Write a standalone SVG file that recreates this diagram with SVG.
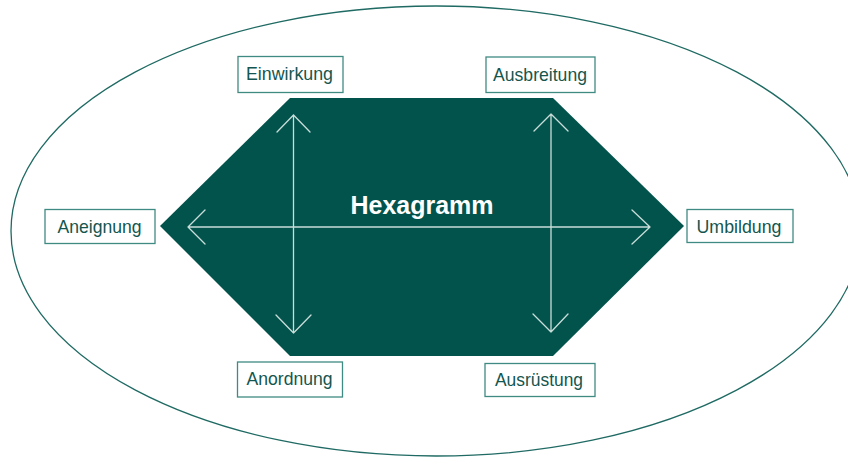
<svg xmlns="http://www.w3.org/2000/svg" width="848" height="457" viewBox="0 0 848 457">
<style>
.box{fill:#fff;stroke:#3f8a82;stroke-width:1.3}
.lbl{font-family:"Liberation Sans",Arial,sans-serif;font-size:19px;fill:#14564f;text-anchor:middle}
.arr{fill:none;stroke:#c9ddd9;stroke-width:1.3;stroke-linecap:round;stroke-linejoin:round}
</style>
<rect width="848" height="457" fill="#fff"/>
<g id="ellipse">
<ellipse cx="436" cy="231" rx="425" ry="225" fill="none" stroke="#1f6a63" stroke-width="1.3"/>
</g>
<g id="hexagon">
<polygon points="290,98 553,98 684,226 553,356 290,356 160,226" fill="#03534d"/>
<text x="422" y="214" font-family="'Liberation Sans',Arial,sans-serif" font-size="26" font-weight="bold" fill="#fff" text-anchor="middle" textLength="143" lengthAdjust="spacingAndGlyphs">Hexagramm</text>
</g>
<g id="connectors">
<path class="arr" d="M188,227 H650 M205,210 L188,227 L205,244 M632,210 L650,227 L632,244"/>
<path class="arr" d="M293.5,115 V333 M277,132 L293.5,115 L310,132 M276,315 L293.5,333 L311,315"/>
<path class="arr" d="M551,114 V332 M534,131 L551,114 L568,131 M533,314 L551,332 L568,314"/>
</g>
<g id="einwirkung">
<rect class="box" x="238" y="56.5" width="105" height="36"/>
<text class="lbl" x="289.5" y="80" textLength="87" lengthAdjust="spacingAndGlyphs">Einwirkung</text>
</g>
<g id="ausbreitung">
<rect class="box" x="486" y="57" width="109" height="35.5"/>
<text class="lbl" x="540" y="81" textLength="94" lengthAdjust="spacingAndGlyphs">Ausbreitung</text>
</g>
<g id="aneignung">
<rect class="box" x="45" y="209.5" width="110" height="34"/>
<text class="lbl" x="99.5" y="233" textLength="84" lengthAdjust="spacingAndGlyphs">Aneignung</text>
</g>
<g id="umbildung">
<rect class="box" x="687" y="209.5" width="106" height="33"/>
<text class="lbl" x="739" y="233" textLength="85" lengthAdjust="spacingAndGlyphs">Umbildung</text>
</g>
<g id="anordnung">
<rect class="box" x="237.5" y="362" width="105" height="35"/>
<text class="lbl" x="289.5" y="385" textLength="86" lengthAdjust="spacingAndGlyphs">Anordnung</text>
</g>
<g id="ausruestung">
<rect class="box" x="485" y="363.5" width="110" height="33"/>
<text class="lbl" x="539" y="386" textLength="88" lengthAdjust="spacingAndGlyphs">Ausrüstung</text>
</g>
</svg>
